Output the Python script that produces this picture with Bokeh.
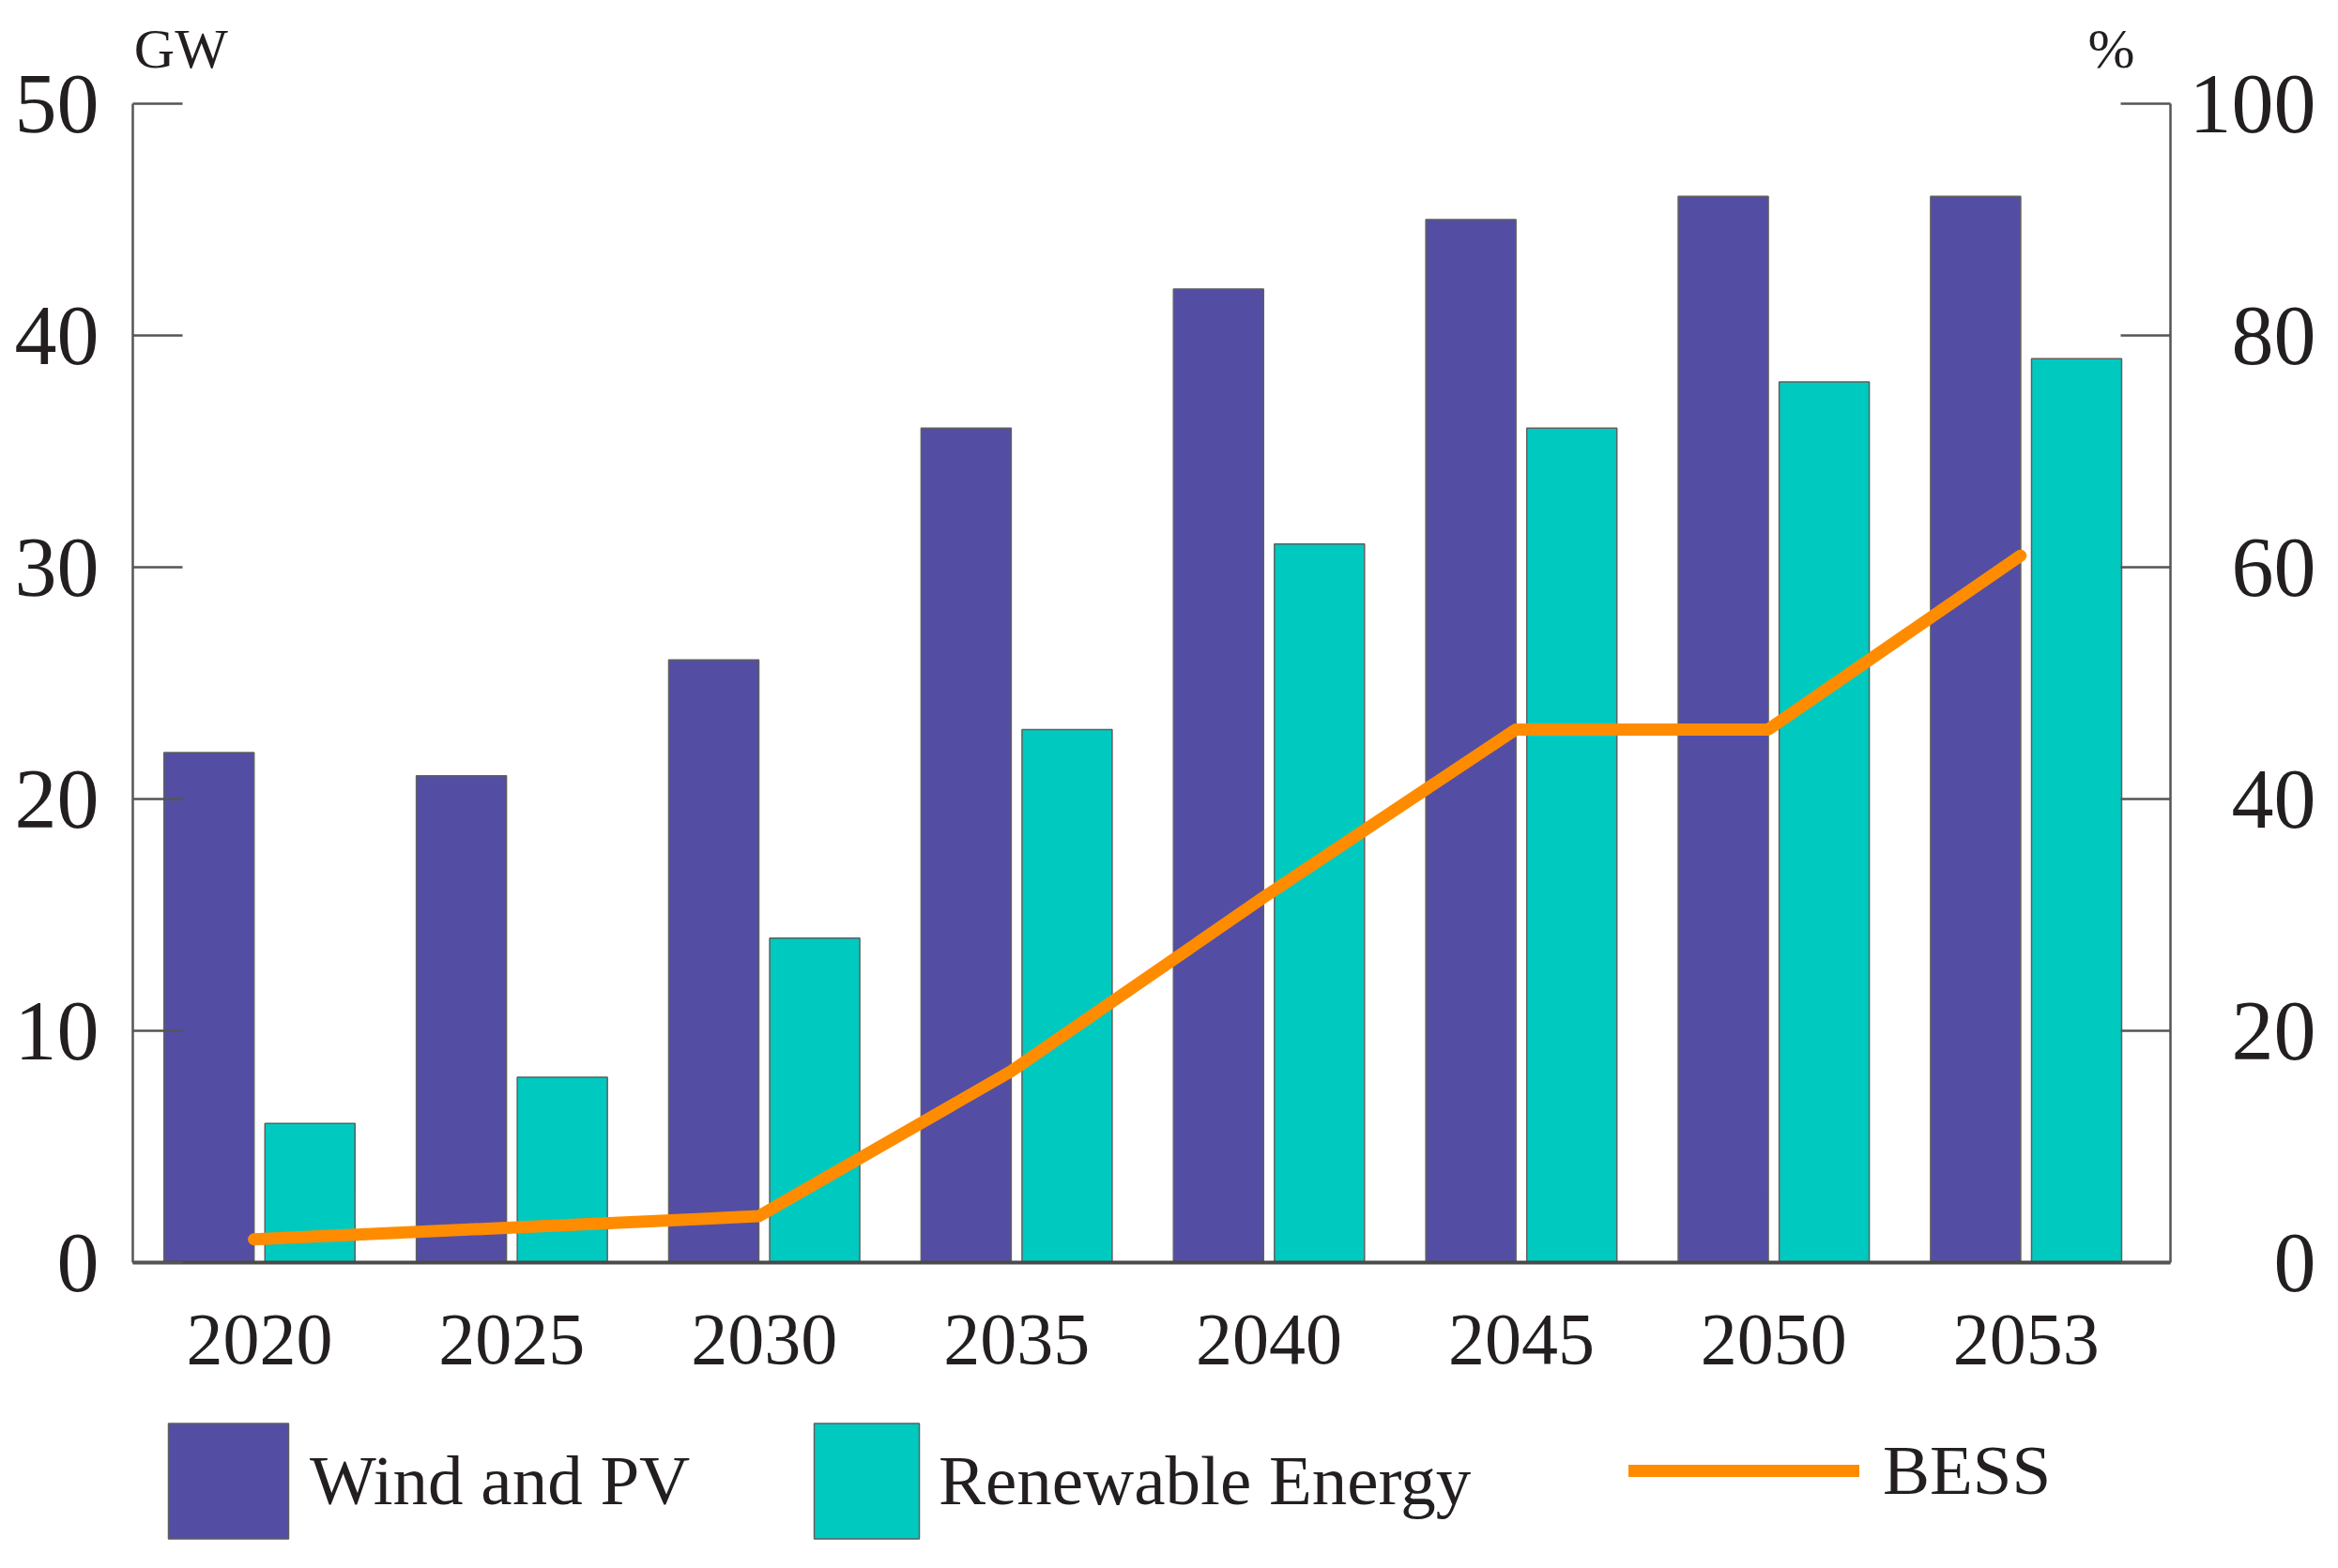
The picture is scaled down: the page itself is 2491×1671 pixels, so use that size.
from bokeh.plotting import figure
from bokeh.layouts import column
from bokeh.models import (Range1d, LinearAxis, FixedTicker, Legend, LegendItem,
                          Label, ColumnDataSource)
from bokeh.embed import file_html
from bokeh.resources import INLINE

# ---- data ----
years = ["2020", "2025", "2030", "2035", "2040", "2045", "2050", "2053"]
wind_pv = [22, 21, 26, 36, 42, 45, 46, 46]          # GW
renewable = [6, 8, 14, 23, 31, 36, 38, 39]          # GW
bess = [2, 3, 4, 16.5, 31.5, 46, 46, 61]            # %
gw_ticks = [0, 10, 20, 30, 40, 50]
pct_ticks = [0, 20, 40, 60, 80, 100]
series_names = ["Wind and PV", "Renewable Energy", "BESS"]

WIND_C = "#534ea3"
RE_C = "#00c9c0"
BESS_C = "#ff8c00"
AX_C = "#555555"
BAR_LINE = "#5f5f5f"
TXT_C = "#231f20"
FONT = "Liberation Serif"

GW_TOP = 53.644         # frame reaches a bit above 50 GW for the unit labels
idx = list(range(len(years)))
src = ColumnDataSource(dict(
    i=idx,
    xw=[i - 0.2 for i in idx],
    xr=[i + 0.2 for i in idx],
    xb=[i - 0.022 for i in idx],
    wind=wind_pv,
    re=renewable,
    bess=bess,
))

W = 2475
H_MAIN = 1500
H_LEG = 163

p = figure(width=W, height=H_MAIN,
           x_range=Range1d(-0.502, 7.572), y_range=Range1d(0, GW_TOP),
           output_backend="svg", toolbar_location=None,
           min_border_left=141, min_border_right=163,
           min_border_top=20, min_border_bottom=155)
p.extra_y_ranges = {"pct": Range1d(0, GW_TOP * 2)}
p.outline_line_color = None
p.xgrid.visible = False
p.ygrid.visible = False
p.background_fill_color = "white"

bw = 0.357
p.vbar(x="xw", top="wind", width=bw, bottom=0, source=src,
       fill_color=WIND_C, line_color=BAR_LINE, line_width=1.5)
p.vbar(x="xr", top="re", width=bw, bottom=0, source=src,
       fill_color=RE_C, line_color=BAR_LINE, line_width=1.5)
p.line(x="xb", y="bess", source=src, y_range_name="pct",
       line_color=BESS_C, line_width=13, line_join="round", line_cap="round")

# ---- axes ----
xa = p.xaxis[0]
xa.ticker = FixedTicker(ticks=idx)
xa.major_label_overrides = {i: y for i, y in zip(idx, years)}
xa.axis_line_color = "#4a4a4a"
xa.axis_line_width = 4
xa.major_tick_line_color = None
xa.minor_tick_line_color = None
xa.major_tick_in = 0
xa.major_tick_out = 0
xa.major_label_standoff = 56
xa.major_label_text_font = FONT
xa.major_label_text_font_size = "78px"
xa.major_label_text_color = TXT_C

ya = p.yaxis[0]
ya.ticker = FixedTicker(ticks=gw_ticks)
ya.bounds = (0, 50)
ya.axis_line_color = AX_C
ya.axis_line_width = 2.5
ya.major_tick_line_color = AX_C
ya.major_tick_line_width = 2.5
ya.major_tick_in = 53
ya.major_tick_out = 0
ya.minor_tick_line_color = None
ya.major_label_standoff = 36
ya.major_label_text_font = FONT
ya.major_label_text_font_size = "90px"
ya.major_label_text_color = TXT_C

ra = LinearAxis(y_range_name="pct", ticker=FixedTicker(ticks=pct_ticks), bounds=(0, 100))
ra.major_label_overrides = {0: "\u2007\u20070", 20: "\u200720", 40: "\u200740",
                            60: "\u200760", 80: "\u200780", 100: "100"}
ra.axis_line_color = AX_C
ra.axis_line_width = 2.5
ra.major_tick_line_color = AX_C
ra.major_tick_line_width = 2.5
ra.major_tick_in = 53
ra.major_tick_out = 0
ra.minor_tick_line_color = None
ra.major_label_standoff = 20
ra.major_label_text_font = FONT
ra.major_label_text_font_size = "90px"
ra.major_label_text_color = TXT_C
p.add_layout(ra, "right")

# ---- unit labels ----
p.add_layout(Label(x=-0.497, y=52.35, text="GW", text_font=FONT,
                   text_font_size="60px", text_color=TXT_C,
                   text_baseline="alphabetic"))
p.add_layout(Label(x=7.245, y=104.7, y_range_name="pct", text="%", text_font=FONT,
                   text_font_size="60px", text_color=TXT_C,
                   text_baseline="alphabetic"))

# ---- legend strip below the chart ----
q = figure(width=W, height=H_LEG, x_range=Range1d(0, 1), y_range=Range1d(0, 1),
           output_backend="svg", toolbar_location=None,
           x_axis_type=None, y_axis_type=None,
           min_border_left=0, min_border_right=0, min_border_top=0, min_border_bottom=0)
q.outline_line_color = None
q.xgrid.visible = False
q.ygrid.visible = False
nan = float("nan")
proxy = ColumnDataSource(dict(x=[nan], top=[nan]))   # legend-only renderers, draw nothing
lw = q.vbar(x="x", top="top", width=0.1, source=proxy,
            fill_color=WIND_C, line_color=BAR_LINE, line_width=1.5)
lr = q.vbar(x="x", top="top", width=0.1, source=proxy,
            fill_color=RE_C, line_color=BAR_LINE, line_width=1.5)
lb = q.line(x="x", y="top", source=proxy,
            line_color=BESS_C, line_width=13, line_cap="round")


def add_legend(label, rend, loc, gw, gh, standoff):
    lg = Legend(items=[LegendItem(label=label, renderers=[rend])],
                location=loc, glyph_width=gw, glyph_height=gh,
                label_standoff=standoff, padding=0, margin=0, spacing=0,
                border_line_color=None, background_fill_alpha=0,
                label_text_font=FONT, label_text_font_size="75px",
                label_text_color=TXT_C)
    q.add_layout(lg, "center")


add_legend(series_names[0], lw, (22, 8), 160, 154, 7)
add_legend(series_names[1], lr, (712, 8), 140, 154, 7)
add_legend(series_names[2], lb, (1594, 36), 246, 120, 25)

layout = column(p, q, spacing=0)
open("out.html", "w").write(file_html(layout, INLINE))
